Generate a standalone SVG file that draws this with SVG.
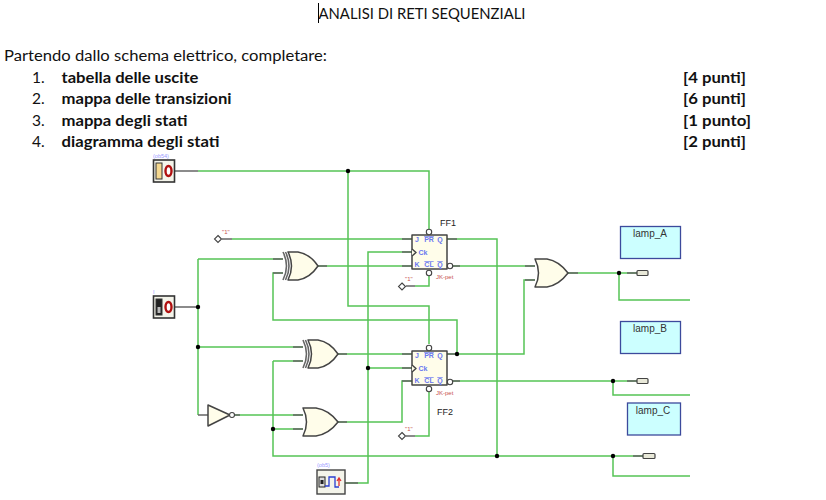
<svg xmlns="http://www.w3.org/2000/svg" xmlns:xlink="http://www.w3.org/1999/xlink" width="826" height="500" viewBox="0 0 826 500">
<style>
.doc{font-family:Lato,"Open Sans","Liberation Sans",sans-serif;font-size:15.5px;fill:#111}
.b{font-weight:700}
.w{fill:none;stroke:#55c455;stroke-width:1.5}
.s{fill:none;stroke:#666;stroke-width:1.5}
.g{fill:#fffdea;stroke:#444;stroke-width:1.5;stroke-linejoin:round}
.x{fill:none;stroke:#666;stroke-width:1.6}
.d{fill:#000;stroke:none}
.bub{fill:#fff;stroke:#444;stroke-width:1.1}
.lamp{fill:#ccffff;stroke:#3c4a9c;stroke-width:1.3}
.lt{font-family:"Liberation Sans",Arial,sans-serif;font-size:10px;fill:#333;text-anchor:middle}
.ff{font-family:"Liberation Sans",Arial,sans-serif;font-size:9px;fill:#222}
.pin{font-family:"Liberation Sans",Arial,sans-serif;font-size:7px;font-weight:700;fill:#6a78f0;text-anchor:middle}
.red{font-family:"Liberation Sans",Arial,sans-serif;font-size:6px;fill:#c85050}
.lab{font-family:"Liberation Sans",Arial,sans-serif;font-size:5.5px;fill:#9a9aff}
.out{fill:#e8e8d8;stroke:#444;stroke-width:1.2}
.dig{fill:#fff;stroke:#b01010;stroke-width:2.4}
</style>
<defs>
<path id="orb" class="g" d="M0,-14 L12,-14 Q24,-12 33,0 Q24,12 12,14 L0,14 Q7,0 0,-14Z"/>
<path id="orc" class="g" d="M0,-14 L13,-14 Q26,-12 35,0 Q26,12 13,14 L0,14 Q7,0 0,-14Z"/>
<g id="xor">
<path class="g" d="M5,-14 L15,-14 Q27,-12 35,0 Q27,12 15,14 L5,14 Q12,0 5,-14Z"/>
<path class="x" d="M0,-14 Q7,0 0,14M2.5,-14 Q9.5,0 2.5,14"/>
</g>
<g id="jk">
<rect class="g" x="0" y="0" width="35" height="34"/>
<text class="pin" x="5" y="7">J</text><text class="pin" x="17" y="7" text-decoration="overline">PR</text><text class="pin" x="28" y="7">Q</text>
<text class="pin" x="11" y="20">Ck</text>
<text class="pin" x="5" y="32">K</text><text class="pin" x="17" y="32" text-decoration="overline">CL</text><text class="pin" x="28" y="32" text-decoration="overline">Q</text>
<path class="g" d="M0,14 L4,17.5 L0,21"/>
<circle class="bub" cx="17" cy="-3" r="2.7"/><circle class="bub" cx="17" cy="38" r="2.7"/><circle class="bub" cx="38" cy="31" r="2.7"/>
</g>
<g id="sw">
<rect x="0" y="0" width="21" height="22" fill="#f4f4ea" stroke="#333" stroke-width="1.6"/>
<ellipse class="dig" cx="15" cy="11" rx="3" ry="5"/>
</g>
</defs>

<text class="doc" x="318.5" y="19" textLength="207" lengthAdjust="spacingAndGlyphs">ANALISI DI RETI SEQUENZIALI</text>
<path d="M318.5,3V23" stroke="#000" stroke-width="1"/>
<text class="doc" x="4" y="61" textLength="323" lengthAdjust="spacingAndGlyphs">Partendo dallo schema elettrico, completare:</text>
<text class="doc" x="32" y="83">1.</text><text class="doc b" x="61.500" y="83" textLength="137" lengthAdjust="spacingAndGlyphs">tabella delle uscite</text><text class="doc b" x="683" y="83" textLength="63" lengthAdjust="spacingAndGlyphs">[4 punti]</text>
<text class="doc" x="32" y="104">2.</text><text class="doc b" x="61.500" y="104" textLength="170" lengthAdjust="spacingAndGlyphs">mappa delle transizioni</text><text class="doc b" x="683" y="104" textLength="63" lengthAdjust="spacingAndGlyphs">[6 punti]</text>
<text class="doc" x="32" y="126">3.</text><text class="doc b" x="61.500" y="126" textLength="126" lengthAdjust="spacingAndGlyphs">mappa degli stati</text><text class="doc b" x="683" y="126" textLength="68" lengthAdjust="spacingAndGlyphs">[1 punto]</text>
<text class="doc" x="32" y="147">4.</text><text class="doc b" x="61.500" y="147" textLength="158" lengthAdjust="spacingAndGlyphs">diagramma degli stati</text><text class="doc b" x="683" y="147" textLength="63" lengthAdjust="spacingAndGlyphs">[2 punti]</text>

<g id="connectors">
<path class="w" d="M198,171H429V232M348,171V306H429V344"/>
<path class="w" d="M232,239H412"/>
<path class="w" d="M198,259H283M198,259V415"/>
<path class="w" d="M198,347H303"/>
<path class="w" d="M283,273H273V320H457V354"/>
<path class="w" d="M318,266H412"/>
<path class="w" d="M412,252H368V483H345"/>
<path class="w" d="M368,368H412"/>
<path class="w" d="M338,354H412"/>
<path class="w" d="M447,239H497V456"/>
<path class="w" d="M452,266H535"/>
<path class="w" d="M429,276V286H415"/>
<path class="w" d="M447,354H524V280H535"/>
<path class="w" d="M568,273H637"/>
<path class="w" d="M619,273V300H690"/>
<path class="w" d="M452,381H637"/>
<path class="w" d="M613,381V395H690"/>
<path class="w" d="M273,361V456H643"/>
<path class="w" d="M273,361H303M273,429H303"/>
<path class="w" d="M613,456V476H690"/>
<path class="w" d="M235,415H303"/>
<path class="w" d="M338,422H402V381H412"/>
<path class="w" d="M429,392V436H415"/>
<path class="s" d="M175,171H198M175,307H198M222,239H232M402,239H412M402,252H412M402,266H412M447,239H457M452,266H460M273,259H283M273,273H283M318,266H327M293,347H303M293,361H303M338,354H347M293,415H303M293,429H303M338,422H347M402,354H412M402,368H412M402,381H412M447,354H457M452,381H460M525,266H535M525,280H535M568,273H578M627,273H637M627,381H637M633,456H643M198,415H208M235,415H240M345,483H358M406,286H415M406,436H415"/>
<circle class="d" cx="198" cy="307" r="2.2"/>
<circle class="d" cx="198" cy="347" r="2.2"/>
<circle class="d" cx="348" cy="171" r="2.2"/>
<circle class="d" cx="457" cy="354" r="2.2"/>
<circle class="d" cx="368" cy="368" r="2.2"/>
<circle class="d" cx="273" cy="429" r="2.2"/>
<circle class="d" cx="497" cy="456" r="2.2"/>
<circle class="d" cx="619" cy="273" r="2.2"/>
<circle class="d" cx="613" cy="381" r="2.2"/>
<circle class="d" cx="613" cy="456" r="2.2"/>
</g>

<g id="sw1">
<text class="lab" x="153" y="158">(ob54)</text>
<use xlink:href="#sw" x="153.500" y="160"/>
<rect x="156" y="163" width="6" height="16" fill="#f5d890" stroke="#333" stroke-width="1"/>
</g>
<g id="sw2">
<text class="lab" x="153" y="294" fill="#6a9ad0">I</text>
<use xlink:href="#sw" x="153.500" y="296"/>
<rect x="156" y="299" width="6" height="16" fill="#222" stroke="#333" stroke-width="1"/>
<rect x="157.500" y="307" width="3" height="6" fill="#bbb"/>
</g>
<g id="const1"><path class="bub" d="M218,235.500L221.500,239L218,242.500L214.500,239Z"/><text class="red" x="222" y="234">"1"</text></g>
<g id="const2"><path class="bub" d="M402,283L405.500,286.500L402,290L398.500,286.500Z"/><text class="red" x="405" y="281">"1"</text></g>
<g id="const3"><path class="bub" d="M402,432.500L405.500,436L402,439.500L398.500,436Z"/><text class="red" x="405" y="431">"1"</text></g>

<g id="xor1"><use xlink:href="#xor" x="283" y="266"/></g>
<g id="xor2"><use xlink:href="#xor" x="303" y="354"/></g>
<g id="or1"><use xlink:href="#orb" x="535" y="273"/></g>
<g id="or2"><use xlink:href="#orc" x="303" y="422"/></g>
<g id="inv">
<path class="g" d="M208,405L230,415L208,426Z"/><circle class="bub" cx="232" cy="415" r="2.500"/>
</g>
<g id="FF1"><use xlink:href="#jk" x="412" y="235"/><text class="ff" x="440" y="226">FF1</text><text class="red" x="436" y="279">JK-pet</text></g>
<g id="FF2"><use xlink:href="#jk" x="412" y="351"/><text class="ff" x="437" y="415">FF2</text><text class="red" x="436" y="395">JK-pet</text></g>
<g id="clk">
<text class="lab" x="317" y="467">(ob5)</text>
<rect x="317" y="470" width="28" height="24" fill="#f4f4ea" stroke="#444" stroke-width="1.4"/>
<rect x="319" y="477" width="6" height="10" fill="#ddd" stroke="#222" stroke-width="1"/>
<rect x="320.500" y="480" width="3" height="4" fill="#222"/>
<path d="M325,486H329V477H335V487H339" fill="none" stroke="#2a3ed0" stroke-width="1.3"/>
<path d="M339,486V479M337,481L339,478L341,481" fill="none" stroke="#e03030" stroke-width="1.3"/>
</g>
<g id="lampA"><rect class="lamp" x="620.500" y="226.500" width="60" height="32"/><text class="lt" x="650" y="237">lamp_A</text><rect class="out" x="637" y="270.500" width="11" height="5" rx="1"/></g>
<g id="lampB"><rect class="lamp" x="620.500" y="321.500" width="60" height="32"/><text class="lt" x="650" y="332">lamp_B</text><rect class="out" x="637" y="378.500" width="11" height="5" rx="1"/></g>
<g id="lampC"><rect class="lamp" x="627.500" y="403" width="53" height="32"/><text class="lt" x="653" y="414">lamp_C</text><rect class="out" x="643" y="453.500" width="12" height="5" rx="1"/></g>
</svg>
